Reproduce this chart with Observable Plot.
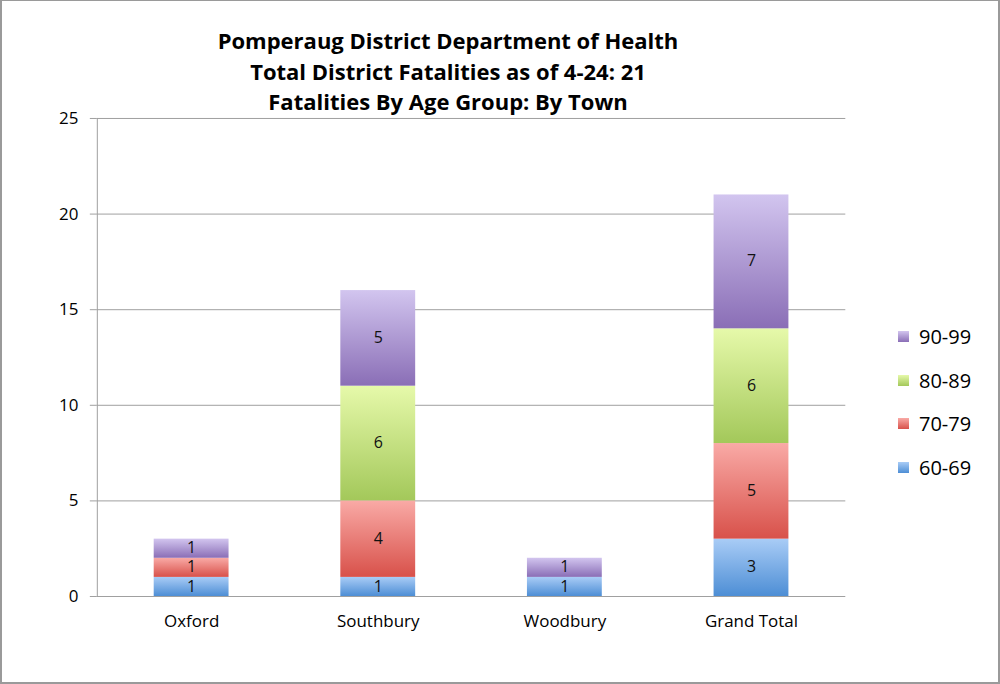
<!DOCTYPE html>
<html>
<head>
<meta charset="utf-8">
<script src="https://cdn.jsdelivr.net/npm/d3@7"></script>
<script src="https://cdn.jsdelivr.net/npm/@observablehq/plot@0.6"></script>
<style>
  html, body { margin: 0; padding: 0; background: #fff; }
  #wrap { position: relative; width: 1000px; height: 684px; box-sizing: border-box;
          border: 2px solid #9a9a9a; border-top-width: 1px; font-family: "Open Sans", Lato, sans-serif; overflow: hidden; }
  #title { position: absolute; left: 0; top: 24px; width: 892px; text-align: center;
           font-weight: bold; font-size: 22px; line-height: 30.5px; color: #000; }
  #chart { position: absolute; left: -2px; top: 106px; }
  #legend { position: absolute; left: 896px; top: 314px; font-size: 20px; color: #000; }
  .row { display: flex; align-items: center; height: 43.5px; }
  .sw { width: 11px; height: 11px; margin-right: 10px; }
</style>
</head>
<body>
<div id="wrap">
  <div id="title">Pomperaug District Department of Health<br>Total District Fatalities as of 4-24: 21<br>Fatalities By Age Group: By Town</div>
  <div id="chart"></div>
  <div id="legend"></div>
</div>
<script>
const towns = ["Oxford", "Southbury", "Woodbury", "Grand Total"];
const ages = ["60-69", "70-79", "80-89", "90-99"];
const v60 = [1, 1, 1, 3];
const v70 = [1, 4, 0, 5];
const v80 = [0, 6, 0, 6];
const v90 = [1, 5, 1, 7];
const yTicks = [0, 5, 10, 15, 20, 25];

const gradTop = ["#a9ccf6", "#f9aaa6", "#e6f9aa", "#d2c5ef"];
const gradBot = ["#4d8ed5", "#d8514a", "#a3c85a", "#8a6eb6"];
const gradIds = ["g60", "g70", "g80", "g90"];

const series = [v60, v70, v80, v90];
const table = [];
towns.forEach((t, i) => ages.forEach((a, j) => {
  if (series[j][i] > 0) table.push({town: t, age: a, value: series[j][i]});
}));

const plot = Plot.plot({
  width: 1000,
  height: 540,
  marginTop: 11,
  marginBottom: 50,
  marginLeft: 97,
  marginRight: 153,
  style: {fontFamily: "'Open Sans', Lato, sans-serif", fontSize: "17px", color: "#000", background: "transparent"},
  x: {domain: towns, paddingInner: 0.6, paddingOuter: 0.3, label: null},
  y: {domain: [0, 25], label: null},
  color: {domain: ages, range: gradIds.map(id => `url(#${id})`)},
  marks: [
    Plot.gridY(yTicks, {stroke: "#a0a0a0", strokeOpacity: 1, strokeWidth: 1}),
    Plot.axisY(yTicks, {tickSize: 7, tickPadding: 12, stroke: "#a0a0a0", fontSize: 17, label: null}),
    Plot.axisX({tickSize: 0, tickPadding: 18, fontSize: 17, label: null}),
    Plot.frame({anchor: "left", stroke: "#a0a0a0"}),
    Plot.barY(table, Plot.stackY({x: "town", y: "value", z: "age", order: ages, fill: "age"})),
    Plot.text(table, Plot.stackY({x: "town", y: "value", z: "age", order: ages, text: d => String(d.value), fill: "#111", fontSize: 16, lineHeight: 0.9}))
  ]
});

const svg = d3.select(plot);
const defs = svg.insert("defs", ":first-child");
gradIds.forEach((id, k) => {
  const g = defs.append("linearGradient").attr("id", id).attr("x1", 0).attr("y1", 0).attr("x2", 0).attr("y2", 1);
  g.append("stop").attr("offset", "0%").attr("stop-color", gradTop[k]);
  g.append("stop").attr("offset", "100%").attr("stop-color", gradBot[k]);
});
document.getElementById("chart").appendChild(plot);

const legend = document.getElementById("legend");
[...ages].reverse().forEach(a => {
  const k = ages.indexOf(a);
  const row = document.createElement("div");
  row.className = "row";
  const sw = document.createElement("div");
  sw.className = "sw";
  sw.style.background = `linear-gradient(${gradTop[k]}, ${gradBot[k]})`;
  const lab = document.createElement("span");
  lab.textContent = a;
  row.appendChild(sw);
  row.appendChild(lab);
  legend.appendChild(row);
});
</script>
</body>
</html>
